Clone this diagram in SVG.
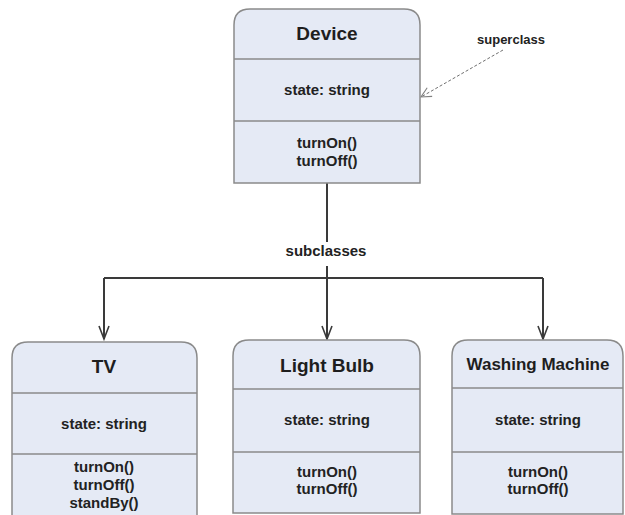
<svg xmlns="http://www.w3.org/2000/svg" width="625" height="515" viewBox="0 0 625 515">
  <style>
    .box { fill: #e5eaf5; stroke: #8a8a8a; stroke-width: 1.5; }
    .sep { stroke: #8a8a8a; stroke-width: 1.5; fill: none; }
    .title { font-family: "Liberation Sans", Arial, sans-serif; font-weight: bold; font-size: 19px; fill: #1e1e1e; text-anchor: middle; }
    .attr { font-family: "Liberation Sans", Arial, sans-serif; font-weight: bold; font-size: 15px; fill: #222222; text-anchor: middle; }
    .label { font-family: "Liberation Sans", Arial, sans-serif; font-weight: bold; font-size: 15px; fill: #222222; text-anchor: middle; }
    .wire { stroke: #3a3a3a; stroke-width: 2; fill: none; }
    .note { stroke: #707070; stroke-width: 1; stroke-dasharray: 3 2; fill: none; }
  </style>
  <defs>
    <marker id="open" viewBox="0 0 16 12" refX="14" refY="6" markerWidth="16" markerHeight="12" markerUnits="userSpaceOnUse" orient="auto">
      <path d="M1,1 L14,6 L1,11" fill="none" stroke="#3a3a3a" stroke-width="1.6"/>
    </marker>
    <marker id="openThin" viewBox="0 0 12 12" refX="11" refY="6" markerWidth="12" markerHeight="12" markerUnits="userSpaceOnUse" orient="auto">
      <path d="M1,1 L11,6 L1,11" fill="none" stroke="#808080" stroke-width="1.1"/>
    </marker>
  </defs>

  <rect width="625" height="515" fill="#ffffff"/>

  <!-- connectors -->
  <g id="connectors">
    <path class="wire" d="M327,183 V242"/>
    <path class="wire" d="M327,266 V278"/>
    <path class="wire" d="M104,278 H543"/>
    <path class="wire" d="M104,278 V339" marker-end="url(#open)"/>
    <path class="wire" d="M327,278 V339" marker-end="url(#open)"/>
    <path class="wire" d="M543,278 V339" marker-end="url(#open)"/>
    <text class="label" x="326" y="256">subclasses</text>
    <path class="note" d="M503,50 L421,97" marker-end="url(#openThin)"/>
    <text class="label" x="511" y="44" style="font-size:13px">superclass</text>
  </g>

  <!-- Device -->
  <g id="device">
    <path class="box" d="M234,183 V25 Q234,9 250,9 H404 Q420,9 420,25 V183 Z"/>
    <path class="sep" d="M234,59 H420 M234,121 H420"/>
    <text class="title" x="327" y="40">Device</text>
    <text class="attr" x="327" y="95">state: string</text>
    <text class="attr" x="327" y="148">turnOn()</text>
    <text class="attr" x="327" y="166">turnOff()</text>
  </g>

  <!-- TV -->
  <g id="tv">
    <path class="box" d="M12,520 V358 Q12,342 28,342 H181 Q197,342 197,358 V520 Z"/>
    <path class="sep" d="M12,393 H197 M12,454 H197"/>
    <text class="title" x="104" y="373">TV</text>
    <text class="attr" x="104" y="429">state: string</text>
    <text class="attr" x="104" y="472">turnOn()</text>
    <text class="attr" x="104" y="490">turnOff()</text>
    <text class="attr" x="104" y="508">standBy()</text>
  </g>

  <!-- Light Bulb -->
  <g id="light-bulb">
    <path class="box" d="M233,513 V356 Q233,340 249,340 H404 Q420,340 420,356 V513 Z"/>
    <path class="sep" d="M233,389 H420 M233,452 H420"/>
    <text class="title" x="327" y="372">Light Bulb</text>
    <text class="attr" x="327" y="425">state: string</text>
    <text class="attr" x="327" y="477">turnOn()</text>
    <text class="attr" x="327" y="494">turnOff()</text>
  </g>

  <!-- Washing Machine -->
  <g id="washing-machine">
    <path class="box" d="M452,514 V356 Q452,340 468,340 H607 Q623,340 623,356 V514 Z"/>
    <path class="sep" d="M452,388 H623 M452,452 H623"/>
    <text class="title" x="538" y="370" style="font-size:17px">Washing Machine</text>
    <text class="attr" x="538" y="425">state: string</text>
    <text class="attr" x="538" y="477">turnOn()</text>
    <text class="attr" x="538" y="494">turnOff()</text>
  </g>
</svg>
